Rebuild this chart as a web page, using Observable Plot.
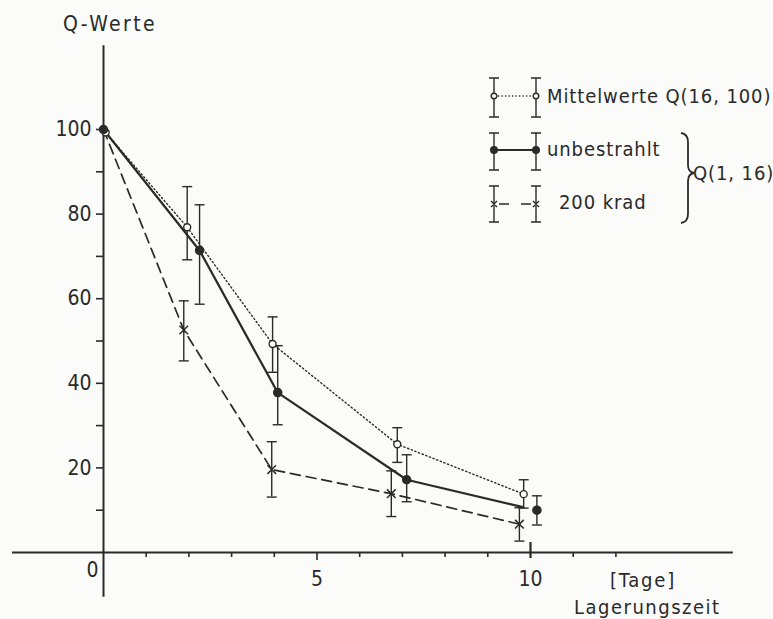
<!DOCTYPE html>
<html>
<head>
<meta charset="utf-8">
<script src="https://cdn.jsdelivr.net/npm/d3@7"></script>
<script src="https://cdn.jsdelivr.net/npm/@observablehq/plot@0.6"></script>
<style>
  html, body { margin: 0; padding: 0; background: #fbfbfa; }
  #wrap { position: relative; width: 773px; height: 619px; overflow: hidden; }
  #overlay { position: absolute; left: 0; top: 0; pointer-events: none; }
  text { font-family: "DejaVu Sans Condensed", "DejaVu Sans", sans-serif; }
</style>
</head>
<body>
<div id="wrap"></div>
<script>
// ---- data ----
const mittelX  = [0.05, 1.96, 3.96, 6.88, 9.84];
const mittelY  = [99.3, 76.9, 49.3, 25.6, 13.8];
const mittelLo = [null, 69.2, 42.6, 21.3, 10.5];
const mittelHi = [null, 86.5, 55.7, 29.5, 17.2];

const unbX  = [0, 2.25, 4.08, 7.1, 10.15];
const unbY  = [100, 71.4, 37.8, 17.2, 10.0];
const unbLo = [null, 58.7, 30.2, 12.0, 6.5];
const unbHi = [null, 82.2, 48.9, 23.1, 13.4];
const unbLineX = [0, 2.25, 4.08, 7.1, 9.8];
const unbLineY = [100, 71.4, 37.8, 17.2, 10.8];

const kradX  = [0, 1.88, 3.94, 6.74, 9.74];
const kradY  = [100, 52.6, 19.6, 13.9, 6.7];
const kradLo = [null, 45.3, 13.1, 8.5, 2.7];
const kradHi = [null, 59.5, 26.2, 19.3, 10.6];

const xMinorTicks = [1, 2, 3, 4, 6, 7, 8, 9, 11, 12];
const xLabelTicks = [5, 10];
const yTicks = [10, 20, 30, 40, 50, 60, 70, 80, 90, 100];
const xAxisExtent = [-2.13, 14.75];
const yAxisExtent = [-10.6, 119.8];

const ink = "#2a2a2a";
const FONT = '"DejaVu Sans Condensed", "DejaVu Sans", sans-serif';

const table = (xs, ys, lo, hi) => xs.map((x, i) => ({x, y: ys[i], lo: lo ? lo[i] : null, hi: hi ? hi[i] : null}));
const mittel = table(mittelX, mittelY, mittelLo, mittelHi);
const unb = table(unbX, unbY, unbLo, unbHi);
const unbLine = table(unbLineX, unbLineY);
const krad = table(kradX, kradY, kradLo, kradHi);
const withErr = d => d.lo != null;

const cap = {draw(ctx, size) { const w = Math.sqrt(size / Math.PI); ctx.moveTo(-w, 0); ctx.lineTo(w, 0); }};
const blank = () => "";

function errorMarks(data) {
  const e = data.filter(withErr);
  return [
    Plot.ruleX(e, {x: "x", y1: "lo", y2: "hi", stroke: ink, strokeWidth: 1.4}),
    Plot.dot(e, {x: "x", y: "hi", symbol: cap, r: 5, stroke: ink, strokeWidth: 1.4}),
    Plot.dot(e, {x: "x", y: "lo", symbol: cap, r: 5, stroke: ink, strokeWidth: 1.4})
  ];
}

const chart = Plot.plot({
  width: 773,
  height: 619,
  marginLeft: 103,
  marginRight: 243,
  marginTop: 129,
  marginBottom: 67,
  style: {background: "transparent", color: ink, fontFamily: FONT, fontSize: "20px"},
  x: {domain: [0, 10], label: null},
  y: {domain: [0, 100], label: null},
  marks: [
    Plot.ruleY([0], {x1: xAxisExtent[0], x2: xAxisExtent[1], stroke: ink, strokeWidth: 2}),
    Plot.ruleX([0], {y1: yAxisExtent[0], y2: yAxisExtent[1], stroke: ink, strokeWidth: 2}),
    Plot.axisY(yTicks, {tickSize: 7, tickPadding: 5, strokeWidth: 1.6, fontSize: 21, label: null,
      tickFormat: d => (d % 20 === 0 ? d : "")}),
    Plot.axisX(xMinorTicks, {tickSize: 5, strokeWidth: 1.6, tickFormat: blank, label: null}),
    Plot.axisX([5], {tickSize: 8, strokeWidth: 1.6, tickFormat: blank, label: null}),
    Plot.axisX([10], {tickSize: 6, strokeWidth: 2.2, tickFormat: blank, label: null}),
    Plot.axisX([10], {tickSize: -10, strokeWidth: 2.2, tickFormat: blank, label: null}),
    Plot.axisX(xLabelTicks, {tickSize: 0, tickPadding: 19, fontSize: 21, label: null}),
    Plot.axisX([0], {tickSize: 0, tickPadding: 10, dx: -11, fontSize: 21, label: null}),

    Plot.line(mittel, {x: "x", y: "y", stroke: ink, strokeWidth: 1.4, strokeDasharray: "1.3,2.6"}),
    Plot.line(unbLine, {x: "x", y: "y", stroke: ink, strokeWidth: 2.2}),
    Plot.line(krad, {x: "x", y: "y", stroke: ink, strokeWidth: 1.7, strokeDasharray: "10,6"}),

    ...errorMarks(mittel),
    ...errorMarks(unb),
    ...errorMarks(krad),

    Plot.dot(mittel, {x: "x", y: "y", r: 3.5, fill: "#fbfbfa", stroke: ink, strokeWidth: 1.4}),
    Plot.dot(unb, {x: "x", y: "y", r: 4, fill: ink, stroke: ink}),
    Plot.dot(krad.filter(withErr), {x: "x", y: "y", symbol: "times", r: 4, stroke: ink, strokeWidth: 1.5})
  ]
});

const wrap = document.getElementById("wrap");
wrap.appendChild(chart);

// ---- legend and axis titles (overlay) ----
const ns = "http://www.w3.org/2000/svg";
const ov = document.createElementNS(ns, "svg");
ov.setAttribute("id", "overlay");
ov.setAttribute("width", 773);
ov.setAttribute("height", 619);
ov.innerHTML = `
<g stroke="${ink}" stroke-width="1.4" fill="none">
  <path d="M489,78H499M494,78V117M489,117H499"/>
  <path d="M531,78H541M536,78V117M531,117H541"/>
  <path d="M498,96H532" stroke-dasharray="1.3,2.2"/>
  <circle cx="494" cy="96" r="2.8" fill="#fbfbfa"/>
  <circle cx="536" cy="96" r="2.8" fill="#fbfbfa"/>
  <path d="M489,133H499M494,133V170M489,170H499"/>
  <path d="M531,133H541M536,133V170M531,170H541"/>
  <path d="M494,150H536" stroke-width="2.2"/>
  <circle cx="494" cy="150" r="3.3" fill="${ink}"/>
  <circle cx="536" cy="150" r="3.3" fill="${ink}"/>
  <path d="M489,186H499M494,186V222M489,222H499"/>
  <path d="M531,186H541M536,186V222M531,222H541"/>
  <path d="M499,204H509M521,204H531" stroke-width="1.6"/>
  <path d="M491,201L497,207M497,201L491,207M533,201L539,207M539,201L533,207" stroke-width="1.4"/>
  <path d="M681,133Q688,134 688,142V165Q688,172 694,173Q688,174 688,181V214Q688,222 681,223" stroke-width="1.8"/>
</g>
<g fill="${ink}" font-size="20" style="letter-spacing:0.9px">
  <text x="547" y="103">Mittelwerte Q(16, 100)</text>
  <text x="547" y="156">unbestrahlt</text>
  <text x="559" y="209">200 krad</text>
  <text x="693" y="180">Q(1, 16)</text>
  <text x="63" y="31" font-size="21" style="letter-spacing:2.4px">Q-Werte</text>
  <text x="610" y="587" style="letter-spacing:1.8px">[Tage]</text>
  <text x="574" y="614" style="letter-spacing:1.5px">Lagerungszeit</text>
</g>`;
wrap.appendChild(ov);
</script>
</body>
</html>
